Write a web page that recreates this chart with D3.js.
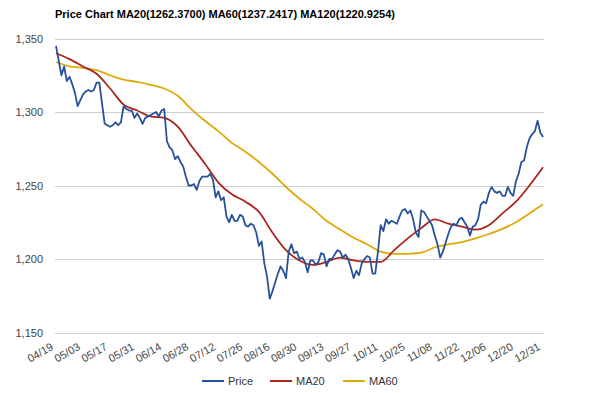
<!DOCTYPE html>
<html>
<head>
<meta charset="utf-8">
<script src="https://cdn.jsdelivr.net/npm/d3@7"></script>
<style>
  html, body { margin: 0; padding: 0; background: #fff; }
  svg { display: block; font-family: "Liberation Sans", Arial, sans-serif; }
</style>
</head>
<body>
<svg id="chart" width="600" height="393"></svg>
<script>
// ---- data ----
const titleText = "Price Chart MA20(1262.3700) MA60(1237.2417) MA120(1220.9254)";
const tickLabels = ["04/19","05/03","05/17","05/31","06/14","06/28","07/12","07/26","08/16","08/30",
                    "09/13","09/27","10/11","10/25","11/08","11/22","12/06","12/20","12/31"];
const tickDays = [0,10,20,30,40,50,60,70,80,90,100,110,120,130,140,150,160,170,180];
const yTicks = [1150, 1200, 1250, 1300, 1350];

// daily closing price (trading day index 0..180)
const price = [
  1345,1335,1325,1331,1321,1324,1319,1313,1304,1308,
  1312,1314,1315,1314,1315,1320,1320,1306,1292,1291,
  1290,1291,1293,1291,1293,1304,1302,1301,1301,1296,
  1299,1296,1292,1296,1297,1298,1299,1300,1297,1301,
  1302,1280,1276,1274,1268,1270,1266,1263,1256,1250,
  1250,1251,1247,1253,1256,1256,1256,1258,1254,1242,
  1246,1240,1242,1229,1225,1230,1226,1226,1230,1229,
  1223,1222,1224,1223,1218,1209,1212,1197,1188,1173,
  1178,1184,1190,1195,1192,1187,1205,1210,1204,1205,
  1200,1201,1198,1191,1199,1199,1196,1198,1204,1203,
  1195,1200,1200,1203,1206,1205,1201,1203,1200,1194,
  1187,1192,1189,1197,1200,1202,1201,1190,1190,1205,
  1223,1219,1227,1224,1226,1225,1224,1229,1233,1234,
  1231,1233,1227,1218,1215,1233,1232,1229,1226,1223,
  1216,1210,1201,1205,1211,1217,1222,1224,1223,1227,
  1228,1225,1222,1216,1222,1223,1227,1237,1239,1238,
  1245,1249,1246,1245,1246,1243,1243,1249,1245,1243,
  1253,1258,1266,1267,1276,1282,1285,1287,1294,1286,1283
];

// moving averages sampled every 5 trading days
const maDays = [0,5,10,15,20,25,30,35,40,45,50,55,60,65,70,75,80,85,90,95,
                100,105,110,115,120,125,130,135,140,145,150,155,160,165,170,175,180];
const ma20 = [1340,1336,1331,1326,1316,1305,1301,1297,1296,1290,
              1277,1265,1252,1244,1239,1232,1218,1206,1199,1196,
              1198,1201,1199,1198,1198,1206,1214,1221,1227,1224,
              1222,1220,1223,1231,1239,1250,1262.4];
const ma60 = [1334,1331,1330,1328.5,1325,1322,1320.5,1318.5,1316,1311,
              1302,1294,1287,1279,1273,1266,1258,1249,1241,1234,
              1226,1220,1214.5,1210,1205,1203.5,1203.5,1204.3,1208,1210,
              1211.5,1214,1217,1220.5,1225,1231,1237.2];

const seriesNames = ["Price", "MA20", "MA60"];
const seriesColors = ["#27529a", "#a8261c", "#dcaa0c"];

// ---- drawing ----
const svg = d3.select("#chart");
const x = d3.scaleLinear().domain([0, 180]).range([56, 543]);
const y = d3.scaleLinear().domain([1150, 1350]).range([332.5, 38.5]);

svg.append("text")
  .attr("x", 55).attr("y", 18)
  .attr("font-size", 11).attr("font-weight", "bold").attr("fill", "#000")
  .text(titleText);

// horizontal grid
const yAxis = d3.axisLeft(y).tickValues(yTicks).tickFormat(d3.format(",")).tickSize(0).tickPadding(0);
const gy = svg.append("g").attr("transform", "translate(43,0)").call(yAxis);
gy.select(".domain").remove();
gy.selectAll("text").attr("font-size", 11).attr("fill", "#444").attr("font-family", "Liberation Sans, Arial, sans-serif");

svg.append("g").selectAll("line").data(yTicks).join("line")
  .attr("x1", 55).attr("x2", 544)
  .attr("y1", d => Math.round(y(d)) + 0.5).attr("y2", d => Math.round(y(d)) + 0.5)
  .attr("stroke", "#cfcfcf").attr("stroke-width", 1);

// x labels
svg.append("g").selectAll("text").data(tickDays).join("text")
  .attr("transform", d => `translate(${x(d) - 2},349) rotate(-30)`)
  .attr("text-anchor", "end")
  .attr("font-size", 11).attr("fill", "#444")
  .text((d, i) => tickLabels[i]);

// lines
const lineMA = d3.line().x(d => x(d[0])).y(d => y(d[1])).curve(d3.curveMonotoneX);
const linePrice = d3.line().x((d, i) => x(i)).y(d => y(d));

svg.append("path").datum(maDays.map((d, i) => [d, ma60[i]]))
  .attr("d", lineMA).attr("fill", "none").attr("stroke", seriesColors[2]).attr("stroke-width", 1.8);
svg.append("path").datum(maDays.map((d, i) => [d, ma20[i]]))
  .attr("d", lineMA).attr("fill", "none").attr("stroke", seriesColors[1]).attr("stroke-width", 1.8);
svg.append("path").datum(price)
  .attr("d", linePrice).attr("fill", "none").attr("stroke", seriesColors[0])
  .attr("stroke-width", 1.8).attr("stroke-linejoin", "round");

// legend
const legendX = [202, 270, 343];
const lg = svg.append("g").selectAll("g").data(seriesNames).join("g")
  .attr("transform", (d, i) => `translate(${legendX[i]},381)`);
lg.append("line").attr("x1", 0).attr("x2", 22).attr("y1", 0).attr("y2", 0)
  .attr("stroke", (d, i) => seriesColors[i]).attr("stroke-width", 2);
lg.append("text").attr("x", 26).attr("y", 4).attr("font-size", 11).attr("fill", "#333").text(d => d);
</script>
</body>
</html>
